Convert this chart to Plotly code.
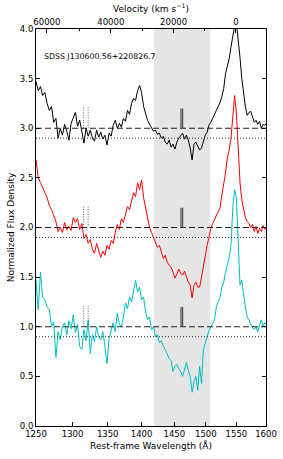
import numpy as np
import plotly.graph_objects as go

# ---------------- data ----------------
wave = [1250, 1253, 1256, 1259, 1262, 1265, 1268, 1271, 1274, 1277,
        1280, 1283, 1286, 1289, 1292, 1295, 1298, 1301, 1304, 1307,
        1310, 1313, 1316, 1319, 1322, 1325, 1328, 1331, 1334, 1337,
        1340, 1343, 1346, 1349, 1352, 1355, 1358, 1361, 1364, 1367,
        1370, 1373, 1376, 1379, 1382, 1385, 1388, 1391, 1394, 1397,
        1400, 1403, 1406, 1409, 1412, 1415, 1418, 1421, 1424, 1427,
        1430, 1433, 1436, 1439, 1442, 1445, 1448, 1451, 1454, 1457,
        1460, 1463, 1466, 1469, 1472, 1475, 1478, 1481, 1484, 1487,
        1490, 1493, 1496, 1499, 1502, 1505, 1508, 1511, 1514, 1517,
        1520, 1523, 1526, 1529, 1532, 1535, 1538, 1541, 1544, 1547,
        1550, 1553, 1556, 1559, 1562, 1565, 1568, 1571, 1574, 1577,
        1580, 1583, 1586, 1589, 1592, 1595, 1598, 1601]

flux_black = [3.47, 3.38, 3.42, 3.33, 3.36, 3.25, 3.18, 3.22, 3.06, 3.10,
              2.90, 3.00, 2.93, 3.04, 2.97, 2.88, 3.05, 3.10, 3.16, 3.02,
              3.08, 2.97, 2.85, 3.00, 2.92, 2.98, 2.90, 2.87, 2.98, 2.91,
              2.96, 2.89, 2.93, 2.83, 2.95, 2.92, 3.03, 3.08, 3.00, 3.05,
              3.01, 3.10, 3.07, 3.18, 3.14, 3.25, 3.30, 3.28, 3.38, 3.43,
              3.36, 3.22, 3.15, 3.08, 3.04, 3.00, 2.97, 2.98, 2.94, 2.95,
              2.90, 2.92, 2.86, 2.84, 2.88, 2.81, 2.84, 2.79, 2.86, 2.90,
              2.93, 2.95, 2.89, 2.93, 2.88, 2.80, 2.68, 2.84, 2.86, 2.82,
              2.78, 2.80, 2.88, 2.93, 2.96, 3.03, 3.06, 3.10, 3.13, 3.18,
              3.22, 3.26, 3.32, 3.40, 3.55, 3.62, 3.70, 3.82, 3.92, 4.03,
              4.06, 3.90, 3.71, 3.50, 3.35, 3.22, 3.13, 3.16, 3.17, 3.12,
              3.06, 3.08, 3.04, 3.07, 3.00, 3.04, 3.03, 3.05]

flux_red = [2.68, 2.50, 2.45, 2.40, 2.36, 2.30, 2.22, 2.18, 2.12, 2.06,
            1.96, 2.00, 1.95, 2.05, 1.98, 2.01, 1.97, 2.10, 2.05, 2.09,
            1.98, 2.04, 1.89, 1.93, 1.84, 1.88, 1.78, 1.74, 1.84, 1.78,
            1.70, 1.76, 1.72, 1.82, 1.78, 1.87, 1.84, 1.95, 2.03, 1.98,
            2.09, 2.05, 2.14, 2.21, 2.18, 2.28, 2.35, 2.31, 2.45, 2.38,
            2.48, 2.30, 2.20, 2.12, 2.00, 1.95, 1.90, 1.86, 1.80, 1.82,
            1.74, 1.69, 1.72, 1.65, 1.62, 1.60, 1.55, 1.49, 1.53, 1.58,
            1.54, 1.52, 1.56, 1.50, 1.45, 1.42, 1.29, 1.42, 1.45, 1.40,
            1.40, 1.50, 1.62, 1.72, 1.82, 1.90, 1.99, 2.04, 2.08, 2.11,
            2.16, 2.20, 2.33, 2.43, 2.55, 2.70, 2.78, 2.90, 3.13, 3.33,
            3.15, 2.85, 2.45, 2.28, 2.20, 2.10, 2.06, 2.04, 2.00, 2.03,
            1.96, 2.01, 1.94, 1.99, 1.96, 2.02, 1.98, 2.00]

flux_cyan = [1.47, 1.17, 1.55, 1.30, 1.27, 1.20, 1.17, 1.00, 1.05, 0.69,
             0.95, 0.87, 1.00, 1.04, 0.92, 1.06, 0.98, 1.12, 0.94, 1.02,
             0.80, 0.77, 0.97, 0.86, 1.07, 0.73, 0.92, 0.85, 1.00, 0.90,
             0.87, 0.95, 0.80, 0.63, 0.88, 0.96, 1.04, 0.95, 1.14, 1.02,
             1.00, 1.10, 1.24, 1.18, 1.30, 1.25, 1.38, 1.47, 1.35, 1.40,
             1.27, 1.30, 1.15, 1.07, 1.10, 0.97, 1.00, 0.90, 0.92, 0.84,
             0.86, 0.80, 0.77, 0.73, 0.68, 0.66, 0.55, 0.60, 0.62, 0.58,
             0.55, 0.50, 0.58, 0.64, 0.56, 0.50, 0.34, 0.45, 0.50, 0.36,
             0.60, 0.43, 0.77, 0.85, 0.90, 0.96, 1.00, 1.03, 1.07, 1.20,
             1.25, 1.30, 1.40, 1.45, 1.55, 1.62, 1.70, 1.82, 2.20, 2.38,
             2.30, 1.85, 1.42, 1.47, 1.30, 1.20, 1.10, 1.07, 1.02, 1.00,
             0.97, 1.00, 0.95, 1.02, 1.07, 1.00, 1.04, 1.02]

continuum_levels = [3.0, 2.0, 1.0]
lower_levels = [2.9, 1.9, 0.9]
band = [1419, 1507]
siiv_marks = [1315.5, 1322.0]
civ_marks = [1460.5, 1463.0]
mark_height = 0.21
velocity_ticks = [60000, 40000, 20000, 0]
velocity_minor = [50000, 30000, 10000]
lambda0 = 1549.06
xticks = [1250, 1300, 1350, 1400, 1450, 1500, 1550, 1600]
yticks = [0.0, 0.5, 1.0, 1.5, 2.0, 2.5, 3.0, 3.5, 4.0]
label = "SDSS J130600.56+220826.7"

# ---------------- helpers ----------------
C = 299792.458
def v_to_lambda(v):
    b = np.asarray(v, dtype=float) / C
    return lambda0 * np.sqrt((1 - b) / (1 + b))

FONT = "DejaVu Sans"
fig = go.Figure()

# grey band (drawn first, beneath everything)
fig.add_trace(go.Scatter(x=[band[0], band[1], band[1], band[0], band[0]],
                         y=[0, 0, 4, 4, 0], mode="lines", fill="toself",
                         fillcolor="#e5e5e5", line=dict(width=0, color="#e5e5e5"),
                         showlegend=False, hoverinfo="skip"))

# spectra
for flux, col in [(flux_black, "#000000"), (flux_red, "#ff0000"), (flux_cyan, "#00bfbf")]:
    fig.add_trace(go.Scatter(x=wave, y=flux, mode="lines",
                             line=dict(color=col, width=1), hoverinfo="skip",
                             showlegend=False))

# horizontal reference lines
for lev in continuum_levels:
    fig.add_trace(go.Scatter(x=[1250, 1600], y=[lev, lev], mode="lines",
                             line=dict(color="#222222", width=1, dash="6px,3px"),
                             showlegend=False, hoverinfo="skip"))
for lev in lower_levels:
    fig.add_trace(go.Scatter(x=[1250, 1600], y=[lev, lev], mode="lines",
                             line=dict(color="#333333", width=1, dash="1px,2px"),
                             showlegend=False, hoverinfo="skip"))

# absorption markers
for lev in continuum_levels:
    for m in siiv_marks:
        fig.add_trace(go.Scatter(x=[m, m], y=[lev, lev + mark_height], mode="lines",
                                 line=dict(color="#666666", width=1, dash="1px,1.5px"),
                                 showlegend=False, hoverinfo="skip"))
    for m in civ_marks:
        fig.add_trace(go.Scatter(x=[m, m], y=[lev, lev + mark_height - 0.01], mode="lines",
                                 line=dict(color="#555555", width=1.3),
                                 showlegend=False, hoverinfo="skip"))

# invisible trace on top axis
fig.add_trace(go.Scatter(x=[1400], y=[2], xaxis="x2", mode="markers",
                         marker=dict(opacity=0), showlegend=False, hoverinfo="skip"))

xr = [np.log10(1250), np.log10(1600)]
tickfont = dict(family=FONT, size=8.5, color="#000000")

fig.update_layout(
    width=283, height=459,
    margin=dict(l=36, r=17, t=29, b=33),
    paper_bgcolor="white", plot_bgcolor="white",
    font=dict(family=FONT, size=9, color="#000000"),
    xaxis=dict(type="log", range=xr, autorange=False, automargin=False,
               tickmode="array", tickvals=xticks, ticktext=[str(t) for t in xticks],
               ticks="inside", ticklen=4, tickcolor="#000", tickwidth=1,
               showline=True, linecolor="#000", linewidth=1, mirror=True,
               showgrid=False, zeroline=False, tickfont=tickfont,
               title=dict(text="Rest-frame Wavelength (Å)", font=dict(family=FONT, size=9),
                          standoff=4)),
    xaxis2=dict(type="log", range=xr, autorange=False, automargin=False,
                overlaying="x", side="top",
                tickmode="array", tickvals=list(v_to_lambda(velocity_ticks)),
                ticktext=[str(v) for v in velocity_ticks],
                ticks="inside", ticklen=4, tickcolor="#000", tickwidth=1,
                minor=dict(tickmode="array", tickvals=list(v_to_lambda(velocity_minor)),
                           ticks="inside", ticklen=2, tickcolor="#000"),
                showline=True, linecolor="#000", linewidth=1,
                showgrid=False, zeroline=False, tickfont=tickfont,
                title=dict(text="Velocity (km s<sup>−1</sup>)", font=dict(family=FONT, size=9),
                           standoff=2)),
    yaxis=dict(range=[0, 4], autorange=False, automargin=False,
               tickmode="array", tickvals=yticks,
               ticktext=["%.1f" % t for t in yticks],
               ticks="inside", ticklen=4, tickcolor="#000", tickwidth=1,
               showline=True, linecolor="#000", linewidth=1, mirror="ticks",
               showgrid=False, zeroline=False, tickfont=tickfont,
               title=dict(text="Normalized Flux Density", font=dict(family=FONT, size=9),
                          standoff=3)),
    annotations=[dict(text=label, xref="paper", yref="paper", x=0.027, y=0.93,
                      xanchor="left", yanchor="middle", showarrow=False,
                      font=dict(family=FONT, size=7.8, color="#000"))],
)

fig.write_html("out.html", config={"displayModeBar": False},
               post_script="document.body.style.margin='0px';document.body.style.padding='0px';")
